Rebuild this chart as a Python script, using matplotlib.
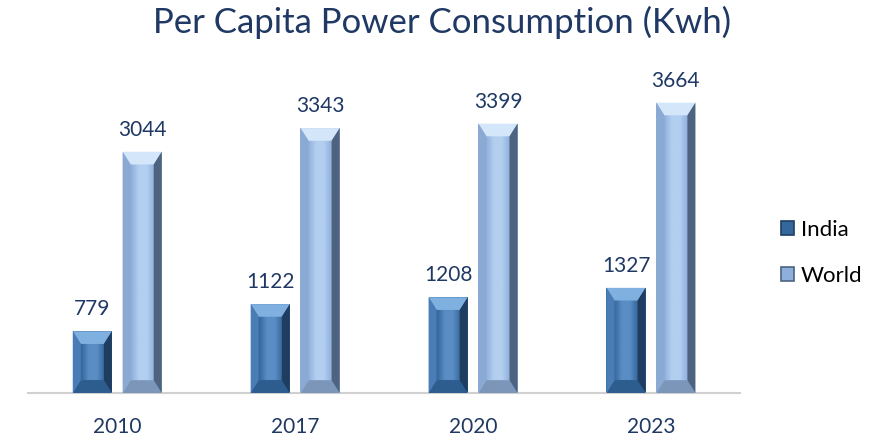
import numpy as np
import matplotlib
matplotlib.use("Agg")
import matplotlib.pyplot as plt
from matplotlib.patches import Polygon, Patch
from matplotlib.colors import LinearSegmentedColormap

plt.rcParams['font.family'] = ['Lato', 'DejaVu Sans']

years = ["2010", "2017", "2020", "2023"]
india = [779, 1122, 1208, 1327]
world = [3044, 3343, 3399, 3664]

NAVY = "#1f3864"

# face light, face dark, top, left, right, bottom
india_cols = ("#5a8dc4", "#35679c", "#7fb0e0", "#4a7db5", "#1e3d60", "#2d5c8e")
world_cols = ("#b3cff0", "#8eaedb", "#d3e6fa", "#8aaad3", "#4d6380", "#7b96b8")


def bevel_bar(ax, xc, width, h, cols, bx, by):
    f1, f2, top, left, right, bottom = cols
    xl, xr = xc - width / 2, xc + width / 2
    by = min(by, h / 3)
    ax.bar(xc, h, width, color=f2, zorder=2, lw=0)
    cmap = LinearSegmentedColormap.from_list("f", [f2, f1, f1, f2])
    ax.imshow(np.linspace(0, 1, 64).reshape(1, -1), cmap=cmap, aspect="auto",
              extent=[xl + bx, xr - bx, by, h - by], zorder=2.5, interpolation="bilinear")
    ax.add_patch(Polygon([(xl, h), (xr, h), (xr - bx, h - by), (xl + bx, h - by)],
                         closed=True, color=top, lw=0, zorder=3))
    ax.add_patch(Polygon([(xl, 0), (xr, 0), (xr - bx, by), (xl + bx, by)],
                         closed=True, color=bottom, lw=0, zorder=3))
    ax.add_patch(Polygon([(xl, 0), (xl, h), (xl + bx, h - by), (xl + bx, by)],
                         closed=True, color=left, lw=0, zorder=3))
    ax.add_patch(Polygon([(xr, 0), (xr, h), (xr - bx, h - by), (xr - bx, by)],
                         closed=True, color=right, lw=0, zorder=3))


fig = plt.figure(figsize=(8.84, 4.36), dpi=100)
ax = fig.add_axes([0.032, 0.0986, 0.805, 0.727])

x = np.arange(len(years))
w = 0.22
off = 0.14
bx = 0.045
by = 160

for i in range(len(years)):
    bevel_bar(ax, x[i] - off, w, india[i], india_cols, bx, by)
    bevel_bar(ax, x[i] + off, w, world[i], world_cols, bx, by)
    ax.text(x[i] - off, india[i] + 150, str(india[i]), ha="center", va="bottom",
            fontsize=15, color=NAVY)
    ax.text(x[i] + off, world[i] + 150, str(world[i]), ha="center", va="bottom",
            fontsize=15, color=NAVY)

ax.set_xlim(-0.5, 3.5)
ax.set_ylim(0, 4000)
ax.set_xticks(x)
ax.set_xticklabels(years, fontsize=15, color=NAVY)
ax.tick_params(axis="x", length=0, pad=17)
ax.set_yticks([])
for s in ["top", "right", "left"]:
    ax.spines[s].set_visible(False)
ax.spines["bottom"].set_color("#d0d0d0")
ax.spines["bottom"].set_linewidth(1.5)

fig.text(0.5, 0.948, "Per Capita Power Consumption (Kwh)", ha="center", va="center",
         fontsize=25, color=NAVY)

handles = [Patch(facecolor=india_cols[1], edgecolor=india_cols[4], lw=1.2, label="India"),
           Patch(facecolor=world_cols[1], edgecolor=world_cols[4], lw=1.2, label="World")]
fig.legend(handles=handles, loc="center left", bbox_to_anchor=(0.861, 0.42),
           frameon=False, fontsize=16, handlelength=0.6, handleheight=0.6,
           handletextpad=0.3, labelspacing=1.2)

fig.savefig("out.png", dpi=100)
